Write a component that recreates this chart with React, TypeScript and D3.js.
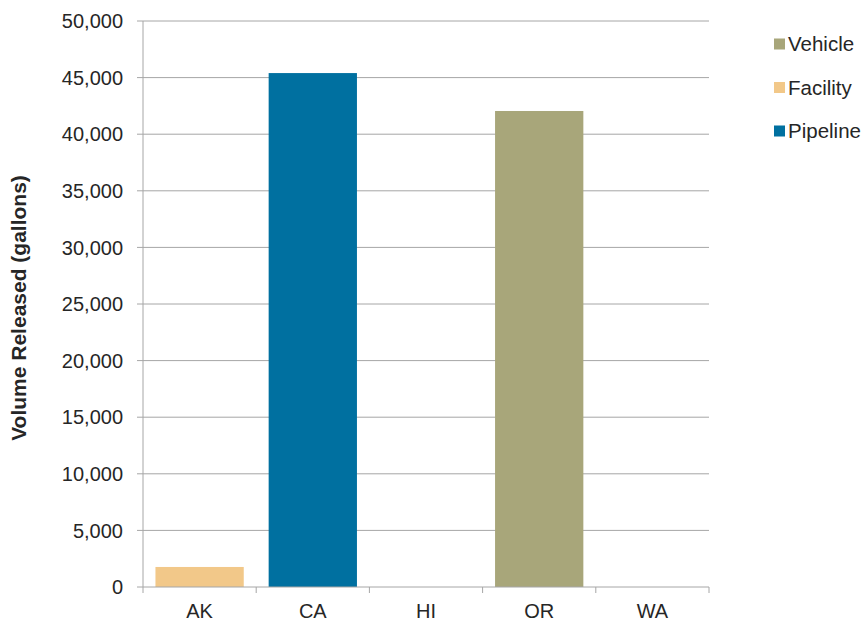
import React from "react";
import * as d3 from "d3";

const states = ["AK", "CA", "HI", "OR", "WA"];
const seriesNames = ["Vehicle", "Facility", "Pipeline"];
const vehicle = [0, 0, 0, 42050, 0];
const facility = [1770, 0, 0, 0, 0];
const pipeline = [0, 45400, 0, 0, 0];
const yTicks = [0, 5000, 10000, 15000, 20000, 25000, 30000, 35000, 40000, 45000, 50000];
const colors: Record<string, string> = { Vehicle: "#A8A67A", Facility: "#F2C889", Pipeline: "#0070A0" };

const W = 864, H = 620;
const left = 143, right = 709, top = 21, bottom = 587;
const font = "Liberation Sans, Arial, sans-serif";
const textColor = "#262626";
const gridColor = "#A6A6A6";

export default function App() {
  const x = d3.scaleBand<string>().domain(states).range([left, right]).paddingInner(0.22).paddingOuter(0.11);
  const y = d3.scaleLinear().domain([0, 50000]).range([bottom, top]);
  const table = states.map((s, i) => ({ state: s, Vehicle: vehicle[i], Facility: facility[i], Pipeline: pipeline[i] }));
  const stack = d3.stack<any>().keys(["Facility", "Pipeline", "Vehicle"])(table);
  const fmt = d3.format(",");
  const step = (right - left) / states.length;

  return (
    <svg width={W} height={H} style={{ position: "absolute", left: 0, top: 0, background: "#fff" }}>
      {yTicks.map((t) => (
        <g key={t}>
          {t > 0 && <line x1={left} x2={right} y1={y(t)} y2={y(t)} stroke={gridColor} strokeWidth={1} />}
          <line x1={left - 6} x2={left} y1={y(t)} y2={y(t)} stroke={gridColor} strokeWidth={1} />
          <text x={123} y={y(t)} dy="0.36em" textAnchor="end" fontFamily={font} fontSize={20} fill={textColor}>
            {fmt(t)}
          </text>
        </g>
      ))}
      {stack.map((layer) => (
        <g key={layer.key} fill={colors[layer.key]}>
          {layer.map((d, i) =>
            d[1] - d[0] > 0 ? (
              <rect key={i} x={x(states[i])} width={x.bandwidth()} y={y(d[1])} height={y(d[0]) - y(d[1])} />
            ) : null
          )}
        </g>
      ))}
      <line x1={left} x2={left} y1={top} y2={bottom} stroke={gridColor} strokeWidth={1} />
      <line x1={left} x2={right} y1={bottom} y2={bottom} stroke={gridColor} strokeWidth={1} />
      {d3.range(states.length + 1).map((i) => (
        <line key={i} x1={left + i * step} x2={left + i * step} y1={bottom} y2={bottom + 6} stroke={gridColor} strokeWidth={1} />
      ))}
      {states.map((s) => (
        <text key={s} x={x(s)! + x.bandwidth() / 2} y={617.5} textAnchor="middle" fontFamily={font} fontSize={20} fill={textColor}>
          {s}
        </text>
      ))}
      <text
        transform={`translate(25.5,${(top + bottom) / 2 + 4}) rotate(-90)`}
        textAnchor="middle"
        fontFamily={font}
        fontSize={21}
        fontWeight="bold"
        fill={textColor}
      >
        Volume Released (gallons)
      </text>
      {seriesNames.map((n, i) => (
        <g key={n} transform={`translate(774,${44 + i * 43.5})`}>
          <rect x={0} y={-5.5} width={11} height={11} fill={colors[n]} />
          <text x={14} y={0} dy="0.36em" fontFamily={font} fontSize={20.5} fill={textColor}>
            {n}
          </text>
        </g>
      ))}
    </svg>
  );
}
